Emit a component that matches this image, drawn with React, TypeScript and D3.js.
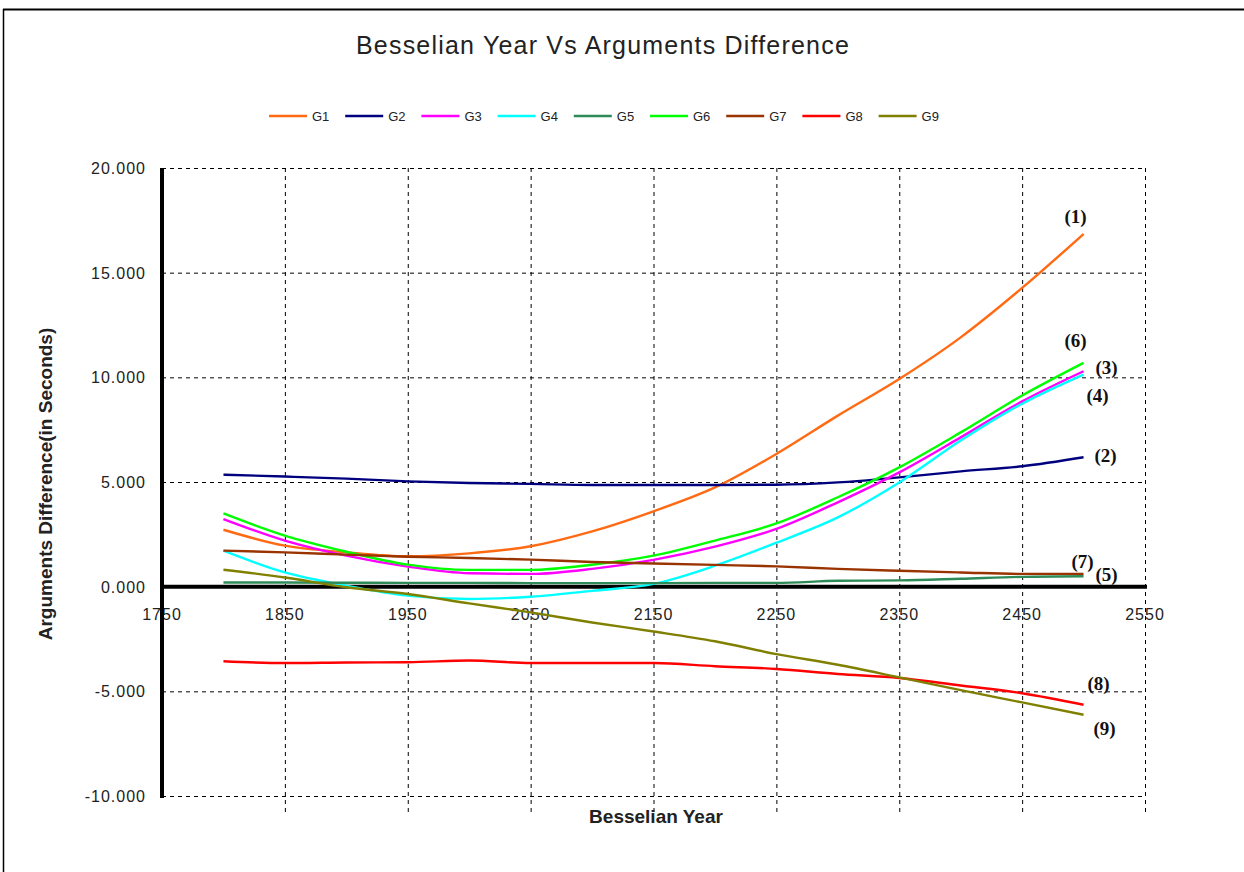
import React from 'react';
import * as d3 from 'd3';

// Besselian years sampled every 50 years
const years = [1800, 1850, 1900, 1950, 2000, 2050, 2100, 2150, 2200, 2250, 2300, 2350, 2400, 2450, 2500];

const g1 = [2.72, 1.96, 1.64, 1.45, 1.59, 1.93, 2.64, 3.6, 4.74, 6.34, 8.17, 9.92, 11.91, 14.27, 16.85];
const g2 = [5.35, 5.26, 5.16, 5.03, 4.95, 4.91, 4.86, 4.86, 4.86, 4.87, 4.98, 5.22, 5.51, 5.75, 6.18];
const g3 = [3.23, 2.2, 1.48, 0.96, 0.64, 0.61, 0.85, 1.28, 1.91, 2.76, 4.03, 5.46, 7.13, 8.85, 10.29];
const g4 = [1.72, 0.68, 0.05, -0.43, -0.59, -0.48, -0.2, 0.13, 1.0, 2.1, 3.31, 4.98, 6.98, 8.74, 10.13];
const g5 = [0.2, 0.2, 0.19, 0.18, 0.18, 0.17, 0.17, 0.17, 0.18, 0.18, 0.28, 0.3, 0.38, 0.47, 0.5];
const g6 = [3.5, 2.44, 1.67, 1.05, 0.8, 0.8, 1.05, 1.48, 2.2, 3.02, 4.27, 5.7, 7.37, 9.13, 10.69];
const g7 = [1.72, 1.64, 1.53, 1.43, 1.37, 1.29, 1.18, 1.11, 1.04, 0.97, 0.85, 0.76, 0.68, 0.61, 0.61];
const g8 = [-3.56, -3.65, -3.62, -3.61, -3.53, -3.65, -3.65, -3.65, -3.8, -3.93, -4.17, -4.36, -4.72, -5.09, -5.64];
const g9 = [0.81, 0.44, -0.03, -0.35, -0.8, -1.23, -1.71, -2.14, -2.61, -3.22, -3.73, -4.33, -4.94, -5.53, -6.12];

const seriesNames = ['G1', 'G2', 'G3', 'G4', 'G5', 'G6', 'G7', 'G8', 'G9'];
const seriesValues = [g1, g2, g3, g4, g5, g6, g7, g8, g9];
const seriesColors = ['#ff6a13', '#00007f', '#ff00ff', '#00ffff', '#2e8b57', '#00ff00', '#993300', '#ff0000', '#808000'];
const endLabels = ['(1)', '(2)', '(3)', '(4)', '(5)', '(6)', '(7)', '(8)', '(9)'];
// label offsets from each series' last point, in pixels
const labelOffsets: [number, number][] = [
  [-8, -17], [22, -1], [23, -3], [14, 21], [23, -1], [-8, -22], [-1, -12], [15, -21], [21, 14],
];

const xTicks = d3.range(1750, 2551, 100);
const yTicks = d3.range(-10, 20.01, 5);

const W = 1244;
const H = 872;
const plot = { left: 162, right: 1145, top: 168, bottom: 796 };

export default function App() {
  const x = d3.scaleLinear().domain([1750, 2550]).range([plot.left, plot.right]);
  const y = d3.scaleLinear().domain([-10, 20]).range([plot.bottom, plot.top]);
  const line = d3
    .line<[number, number]>()
    .x((d) => x(d[0]))
    .y((d) => y(d[1]))
    .curve(d3.curveMonotoneX);
  // plain hyphen instead of d3's unicode minus
  const fmt = (v: number) => d3.format('.3f')(v).replace('\u2212', '-');
  const font = 'Liberation Sans, Arial, sans-serif';

  return (
    <svg width={W} height={H} style={{ position: 'absolute', left: 0, top: 0, background: '#fff' }} fontFamily={font}>
      {/* frame */}
      <line x1={3} x2={W} y1={9.5} y2={9.5} stroke="#000" strokeWidth={2} />
      <line x1={3.5} x2={3.5} y1={9} y2={H} stroke="#000" strokeWidth={1.5} />

      <text x={603} y={54} textAnchor="middle" fontSize={25} letterSpacing={1.2} fill="#222">
        Besselian Year Vs Arguments Difference
      </text>

      {/* legend */}
      {seriesNames.map((name, i) => {
        const lx = 269 + i * 76.2;
        return (
          <g key={name}>
            <line x1={lx} x2={lx + 38} y1={116} y2={116} stroke={seriesColors[i]} strokeWidth={2.5} />
            <text x={lx + 43} y={120.5} fontSize={13} fill="#222">{name}</text>
          </g>
        );
      })}

      {/* y tick labels */}
      {yTicks.map((t) => (
        <text key={'yl' + t} x={146} y={y(t) + 6} textAnchor="end" fontSize={16} letterSpacing={1} fill="#222">{fmt(t)}</text>
      ))}
      {/* x tick labels */}
      {xTicks.map((t) => (
        <text key={'xl' + t} x={x(t)} y={619.5} textAnchor="middle" fontSize={16} letterSpacing={1} fill="#222">{t}</text>
      ))}

      {/* grid */}
      {yTicks.filter((t) => t !== 0).map((t) => (
        <line key={'gy' + t} x1={plot.left} x2={plot.right} y1={y(t) + 0.5} y2={y(t) + 0.5} stroke="#000" strokeDasharray="4,4" />
      ))}
      {xTicks.filter((t) => t !== 1750).map((t) => (
        <line key={'gx' + t} x1={x(t) + 0.5} x2={x(t) + 0.5} y1={plot.top} y2={812} stroke="#000" strokeDasharray="4,4" />
      ))}

      {/* axes */}
      <line x1={plot.left} x2={plot.left} y1={plot.top} y2={plot.bottom + 2} stroke="#000" strokeWidth={4} />
      <line x1={plot.left} x2={plot.right + 2} y1={y(0)} y2={y(0)} stroke="#000" strokeWidth={4} />

      <text x={656} y={823} textAnchor="middle" fontSize={19} fontWeight="bold" fill="#222">Besselian Year</text>
      <text transform={`translate(52,484) rotate(-90)`} textAnchor="middle" fontSize={19} fontWeight="bold" fill="#222">
        Arguments Difference(in Seconds)
      </text>

      {/* series */}
      {seriesValues.map((vals, i) => (
        <path
          key={seriesNames[i]}
          d={line(years.map((yr, j) => [yr, vals[j]] as [number, number])) || ''}
          fill="none"
          stroke={seriesColors[i]}
          strokeWidth={2.4}
        />
      ))}

      {/* end labels */}
      {seriesValues.map((vals, i) => {
        const last = years.length - 1;
        return (
          <text
            key={'lab' + i}
            x={x(years[last]) + labelOffsets[i][0]}
            y={y(vals[last]) + labelOffsets[i][1] + 6}
            textAnchor="middle"
            fontSize={19}
            fontWeight="bold"
            fontFamily="Liberation Serif, Times New Roman, serif"
            fill="#111"
          >
            {endLabels[i]}
          </text>
        );
      })}
    </svg>
  );
}
